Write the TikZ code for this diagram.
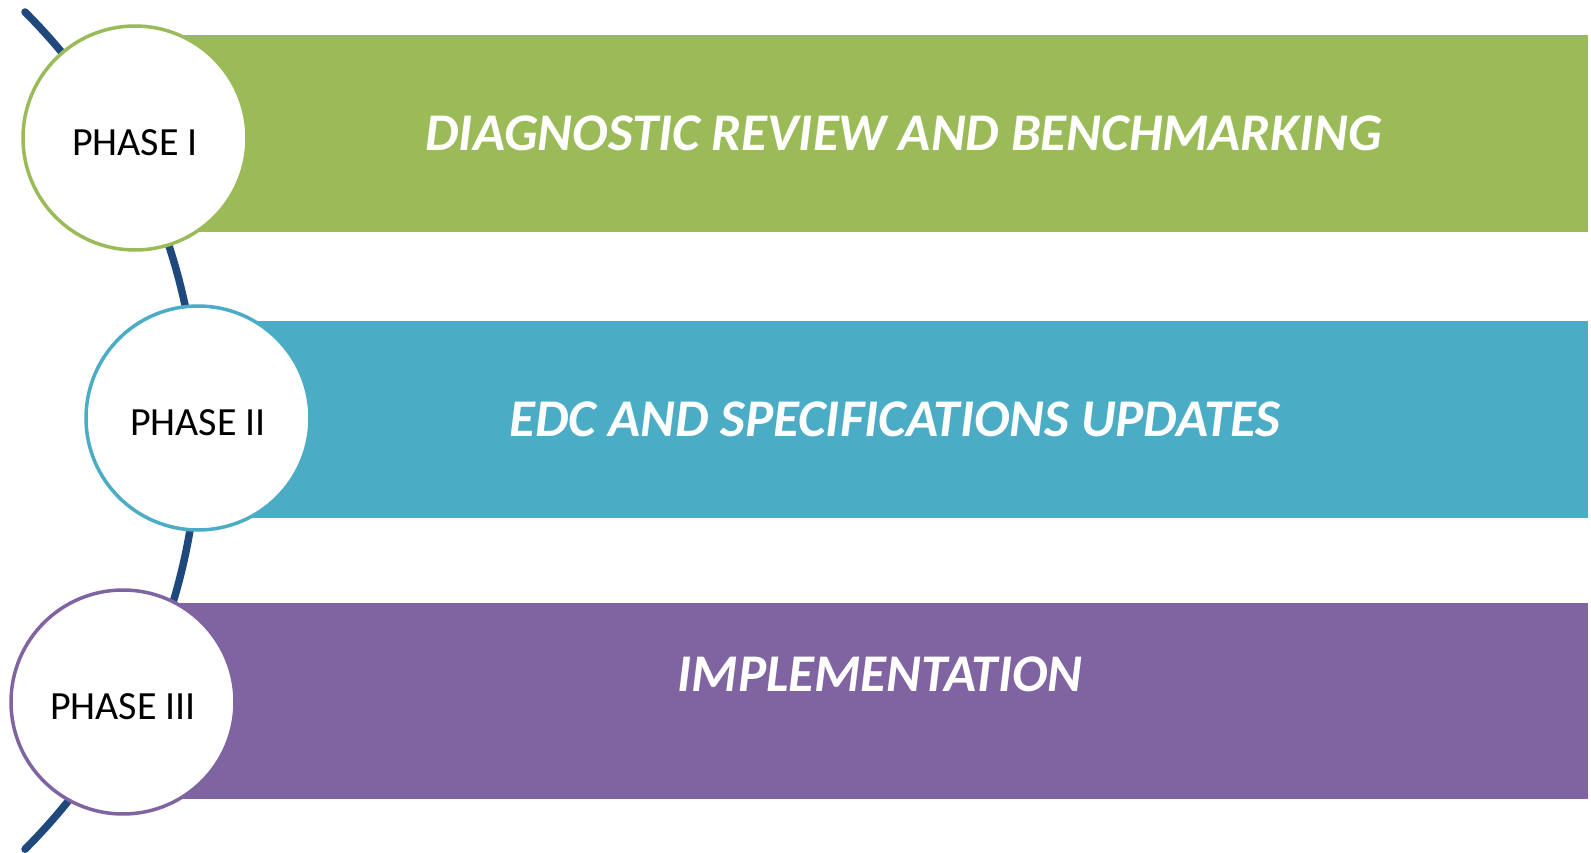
\documentclass[tikz,border=0pt]{standalone}
\usepackage{fontspec}
\setmainfont{Carlito}
\usetikzlibrary{calc}
\usetikzlibrary{positioning}
\definecolor{olivegreen}{RGB}{155, 187, 89}
\definecolor{aqua}{RGB}{75, 172, 198}
\definecolor{lavender}{RGB}{128, 100, 162}
\definecolor{navy}{RGB}{31, 73, 125}

\tikzset{
    phase/.style={circle, draw=#1, fill=white, line width=3.5pt, minimum size=224pt,
                  inner sep=0pt, text height=35pt, text depth=0pt, font=\fontsize{40}{48}\selectfont},
    bartext/.style={anchor=base, text=white, font=\fontsize{53}{63}\selectfont\bfseries\itshape}
}

\begin{document}
\begin{tikzpicture}[x=1pt, y=-1pt]
            % Frame to ensure alignment:
            \useasboundingbox                                  (   0,   0) rectangle (1591, 853);
            \fill[white]                                       (   0,   0) rectangle (1591, 853);
            % the timeline arc behind the phases
            \draw[navy, line width=7.5pt, line cap=round]      (  25,  12) arc[start angle=45, end angle=-45, radius=592pt];
            % bars
            \fill[olivegreen]                                  ( 135,  35) rectangle (1588, 232);
            \fill[aqua]                                        ( 198, 321) rectangle (1588, 518);
            \fill[lavender]                                    ( 123, 603) rectangle (1588, 799);
            \node[bartext] (t1) at ( 904, 151) {DIAGNOSTIC REVIEW AND BENCHMARKING};
            \node[bartext] (t2) at ( 895, 436) {EDC AND SPECIFICATIONS UPDATES};
            \node[bartext] (t3) at ( 880, 691) {IMPLEMENTATION};
            % phase circles
            \node[phase=olivegreen] (p1) at ( 135, 138) {PHASE I};
            \node[phase=aqua]       (p2) at ( 198, 418) {PHASE II};
            \node[phase=lavender]   (p3) at ( 123, 702) {PHASE III};
        \end{tikzpicture}
\end{document}
